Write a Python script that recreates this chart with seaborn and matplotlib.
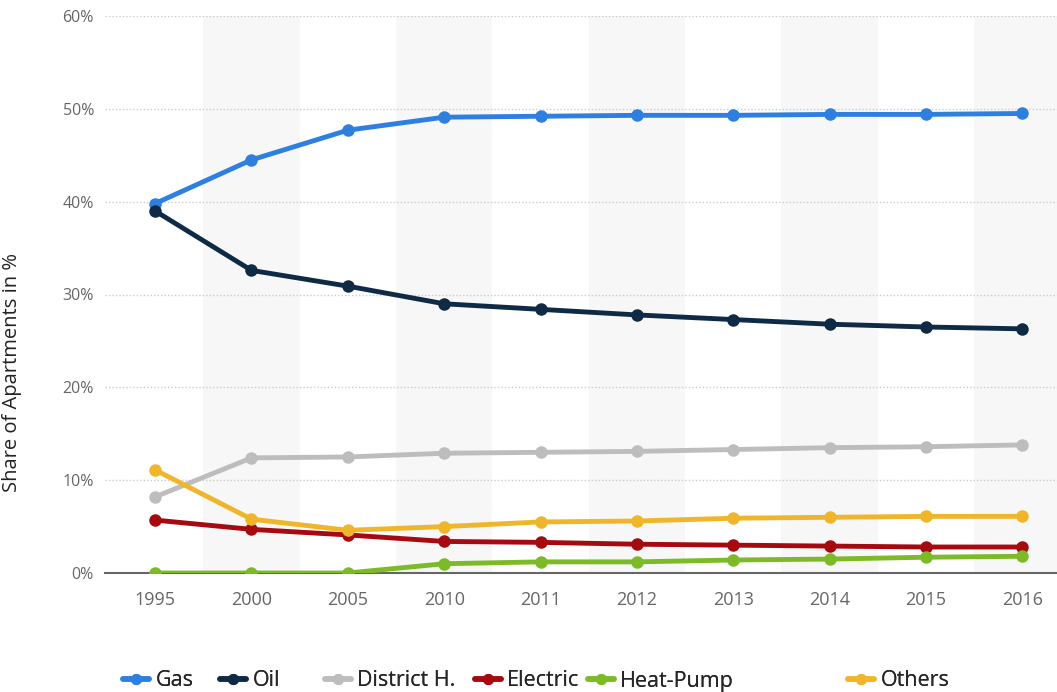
import pandas as pd
import numpy as np
import matplotlib.pyplot as plt
import seaborn as sns
from matplotlib.ticker import FuncFormatter

years = ["1995", "2000", "2005", "2010", "2011", "2012", "2013", "2014", "2015", "2016"]
gas = [39.8, 44.5, 47.7, 49.1, 49.2, 49.3, 49.3, 49.4, 49.4, 49.5]
oil = [39.0, 32.6, 30.9, 29.0, 28.4, 27.8, 27.3, 26.8, 26.5, 26.3]
district = [8.2, 12.4, 12.5, 12.9, 13.0, 13.1, 13.3, 13.5, 13.6, 13.8]
electric = [5.7, 4.7, 4.1, 3.4, 3.3, 3.1, 3.0, 2.9, 2.8, 2.8]
heat_pump = [0.0, 0.0, 0.0, 1.0, 1.2, 1.2, 1.4, 1.5, 1.7, 1.8]
others = [11.1, 5.8, 4.6, 5.0, 5.5, 5.6, 5.9, 6.0, 6.1, 6.1]

series = {"Gas": gas, "Oil": oil, "District H.": district,
          "Electric": electric, "Heat-Pump": heat_pump, "Others": others}
colors = {"Gas": "#2f7fe0", "Oil": "#0f2a44", "District H.": "#bdbdbd",
          "Electric": "#a60a10", "Heat-Pump": "#7dba28", "Others": "#f0b62b"}

rows = []
for name, vals in series.items():
    for i, (yr, v) in enumerate(zip(years, vals)):
        rows.append({"idx": i, "year": yr, "share": v, "type": name})
df = pd.DataFrame(rows)

sns.set_style("white")
plt.rcParams['font.family'] = ['Open Sans', 'DejaVu Sans']

fig = plt.figure(figsize=(10.57, 6.92), dpi=100)
ax = fig.add_axes([105/1057, 119/692, 952/1057, 557/692])

# alternating column bands
for i in range(1, len(years), 2):
    ax.axvspan(i - 0.5, i + 0.5, color="#f7f7f7", zorder=0, lw=0)

sns.lineplot(data=df, x="idx", y="share", hue="type", palette=colors,
             marker="o", markersize=9, markeredgewidth=0, linewidth=3.5,
             ax=ax, legend=True, zorder=3)

ax.set_ylim(0, 60)
ax.set_xlim(-0.52, 9.36)
ax.set_xticks(range(len(years)))
ax.set_xticklabels(years)
ax.set_yticks(range(0, 61, 10))
ax.yaxis.set_major_formatter(FuncFormatter(lambda v, p: f"{int(v)}%"))
ax.tick_params(axis="both", colors="#666666", length=0)
ax.tick_params(axis="x", pad=13, labelsize=13)
ax.tick_params(axis="y", pad=8, labelsize=11.5)
ax.grid(axis="y", linestyle=(0, (1, 1.5)), color="#cccccc", linewidth=1)
ax.set_axisbelow(True)
for s in ["top", "right", "left"]:
    ax.spines[s].set_visible(False)
ax.spines["bottom"].set_color("#666666")
ax.spines["bottom"].set_linewidth(1.5)
ax.spines["bottom"].set_zorder(2)
ax.set_xlabel("")
ax.set_ylabel("Share of Apartments in %", fontsize=14.5, color="#222222")
ax.yaxis.set_label_coords(-0.087, 0.36)

handles, labels = ax.get_legend_handles_labels()
ax.get_legend().remove()
# legend entries spread along the bottom like the original
leg_x = [123, 220, 325, 475, 588, 848]
for h, lab, x in zip(handles, labels, leg_x):
    h.set_linewidth(4)
    h.set_markersize(8)
    leg = fig.legend([h], [lab], loc="center left", bbox_to_anchor=(x/1057, 11/692),
                     frameon=False, fontsize=15.5, handlelength=1.2,
                     handletextpad=0.3, borderpad=0, borderaxespad=0)
    fig.add_artist(leg)

fig.savefig("out.png", dpi=100)
